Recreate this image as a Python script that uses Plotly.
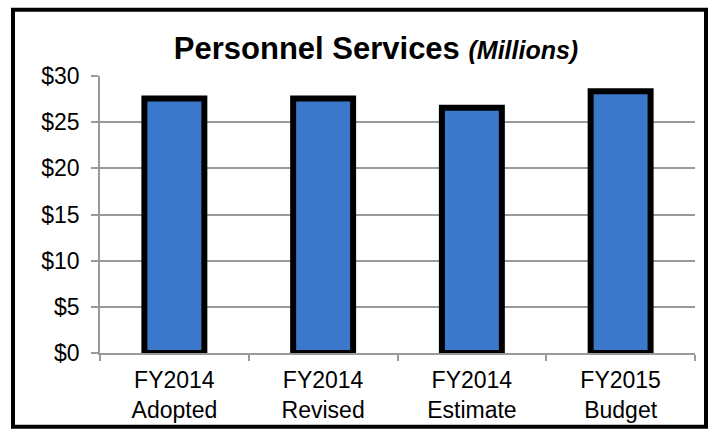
import plotly.graph_objects as go

# Personnel Services spending, in millions of dollars
categories = ["FY2014<br>Adopted", "FY2014<br>Revised", "FY2014<br>Estimate", "FY2015<br>Budget"]
values = [27.55, 27.55, 26.55, 28.35]
y_ticks = [0, 5, 10, 15, 20, 25, 30]
y_tick_labels = ["$0", "$5", "$10", "$15", "$20", "$25", "$30"]

W, H = 711, 435
M_L, M_R, M_T, M_B = 100, 16, 76, 79
FONT = "Liberation Sans, Arial, sans-serif"
GRID = "#9a9a9a"


def px_x(px):
    """Convert a pixel column into plot-area paper coordinates."""
    return (px - M_L) / (W - M_L - M_R)


def px_y(py):
    """Convert a pixel row into plot-area paper coordinates."""
    return (H - M_B - py) / (H - M_T - M_B)


fig = go.Figure(
    go.Bar(
        x=categories,
        y=values,
        marker=dict(color="#3b78cc", line=dict(color="#000000", width=6)),
        hoverinfo="x+y",
    )
)

fig.update_layout(
    width=W,
    height=H,
    margin=dict(l=M_L, r=M_R, t=M_T, b=M_B),
    paper_bgcolor="white",
    plot_bgcolor="white",
    bargap=0.597,
    showlegend=False,
    font=dict(family=FONT, color="#000000", size=23),
    title=dict(
        text="<b>Personnel Services</b> <span style='font-size:25px'><b><i>(Millions)</i></b></span>",
        font=dict(family=FONT, size=31, color="#000000"),
        xref="container",
        x=376 / W,
        xanchor="center",
        yref="container",
        y=1 - 48 / H,
        yanchor="middle",
    ),
    xaxis=dict(
        showline=True,
        linecolor=GRID,
        linewidth=1.5,
        ticks="outside",
        tickson="boundaries",
        ticklen=6,
        tickcolor=GRID,
        tickwidth=1.5,
        showgrid=False,
        ticklabelstandoff=6,
        tickfont=dict(family=FONT, size=23, color="#000000"),
    ),
    yaxis=dict(
        range=[0, 30],
        tickvals=y_ticks,
        ticktext=y_tick_labels,
        showgrid=True,
        gridcolor=GRID,
        gridwidth=1.5,
        showline=True,
        linecolor=GRID,
        linewidth=1.5,
        ticks="outside",
        ticklen=7,
        tickcolor=GRID,
        tickwidth=1.5,
        zeroline=False,
        ticklabelstandoff=7,
        tickfont=dict(family=FONT, size=23, color="#000000"),
    ),
    shapes=[
        # black frame around the whole chart
        dict(
            type="rect",
            xref="paper",
            yref="paper",
            x0=px_x(13),
            x1=px_x(706),
            y0=px_y(430.5),
            y1=px_y(9),
            line=dict(color="#000000", width=4),
            fillcolor="rgba(0,0,0,0)",
            layer="above",
        )
    ],
)

fig.write_html("out.html")
